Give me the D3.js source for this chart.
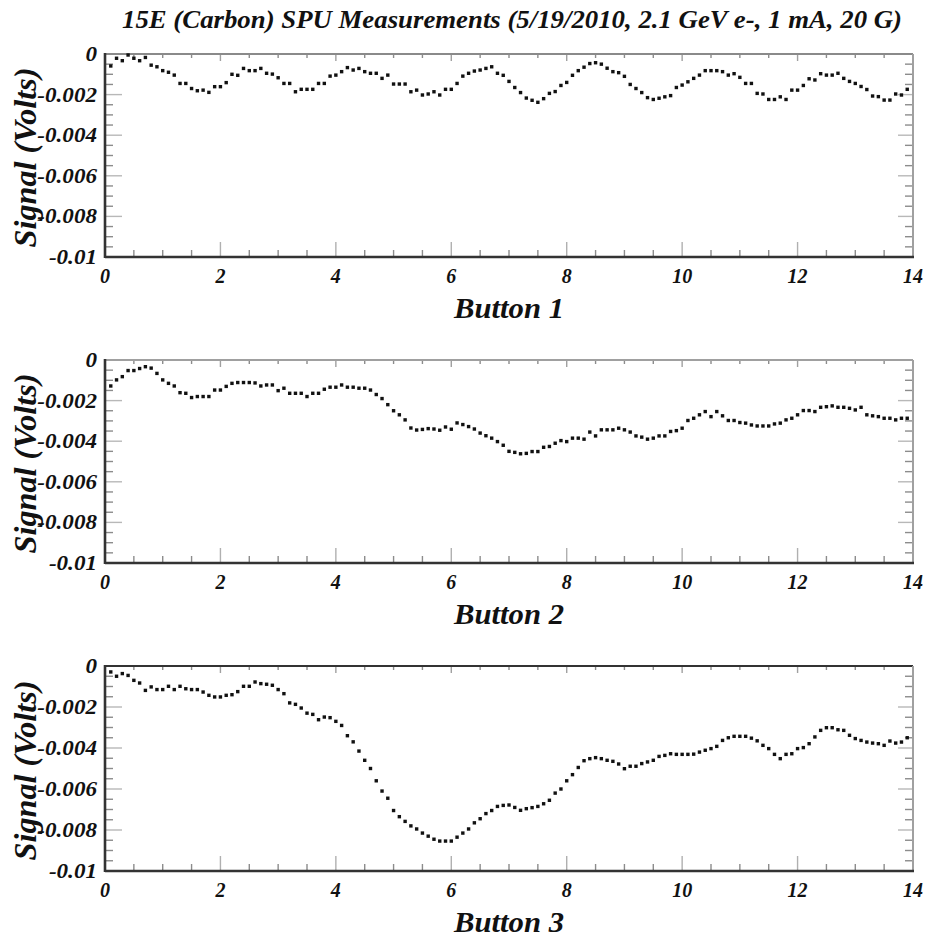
<!DOCTYPE html>
<html>
<head>
<meta charset="utf-8">
<script src="https://cdn.jsdelivr.net/npm/d3@7/dist/d3.min.js"></script>
<style>
  html, body { margin: 0; padding: 0; background: #fff; }
  svg { display: block; }
</style>
</head>
<body>
<script>
// ---- Data -------------------------------------------------------------
// Beam position along the scan, 0.1 .. 13.9 in steps of 0.1
const positions = d3.range(1, 140).map(i => i / 10);

// Button signals in millivolts, one value per position
const button1 = [
  -0.59,-0.21,-0.33,-0.05,-0.21,-0.33,-0.17,-0.55,-0.63,-0.82,
  -0.90,-1.04,-1.45,-1.45,-1.70,-1.81,-1.78,-1.89,-1.61,-1.61,
  -1.41,-1.00,-1.05,-0.71,-0.82,-0.82,-0.71,-0.95,-0.99,-1.17,
  -1.45,-1.45,-1.86,-1.74,-1.74,-1.74,-1.45,-1.45,-1.09,-1.04,
  -0.87,-0.67,-0.79,-0.71,-0.87,-0.95,-0.95,-1.20,-1.04,-1.48,
  -1.48,-1.48,-1.86,-1.78,-2.02,-1.97,-1.86,-2.02,-1.74,-1.74,
  -1.45,-1.09,-0.95,-0.84,-0.79,-0.71,-0.63,-0.95,-1.05,
  -1.35,-1.65,-1.90,-2.17,-2.28,-2.38,-2.20,-1.94,-1.85,-1.55,
  -1.40,-1.05,-0.82,-0.65,-0.47,-0.43,-0.50,-0.70,-0.87,-0.92,
  -1.10,-1.50,-1.70,-1.90,-2.15,-2.24,-2.18,-2.11,-2.05,-1.65,
  -1.53,-1.37,-1.20,-1.04,-0.82,-0.82,-0.82,-0.87,-1.04,-0.97,
  -1.15,-1.45,-1.45,-1.94,-1.97,-2.24,-2.24,-2.11,-2.24,-1.78,
  -1.78,-1.55,-1.22,-1.28,-0.97,-1.04,-1.04,-0.95,-1.20,-1.35,
  -1.45,-1.60,-1.75,-2.07,-2.10,-2.27,-2.27,-1.97,-2.02,-1.74
];

const button2 = [
  -1.28,-0.98,-0.82,-0.52,-0.52,-0.42,-0.33,-0.40,-0.66,-0.98,
  -1.15,-1.28,-1.61,-1.64,-1.85,-1.80,-1.80,-1.80,-1.48,-1.48,
  -1.30,-1.15,-1.11,-1.11,-1.11,-1.13,-1.28,-1.23,-1.23,-1.51,
  -1.39,-1.64,-1.64,-1.64,-1.80,-1.64,-1.64,-1.44,-1.34,-1.34,
  -1.23,-1.34,-1.34,-1.39,-1.39,-1.48,-1.70,-1.90,-2.20,-2.50,
  -2.70,-2.95,-3.35,-3.45,-3.42,-3.38,-3.40,-3.46,-3.30,-3.41,
  -3.10,-3.18,-3.28,-3.40,-3.60,-3.73,-3.85,-4.02,-4.20,
  -4.50,-4.55,-4.62,-4.60,-4.51,-4.51,-4.30,-4.26,-4.10,-3.97,
  -4.02,-3.85,-3.85,-3.90,-3.55,-3.74,-3.44,-3.44,-3.44,-3.36,
  -3.44,-3.55,-3.74,-3.80,-3.90,-3.85,-3.74,-3.74,-3.52,-3.48,
  -3.36,-2.98,-2.87,-2.70,-2.54,-2.79,-2.54,-2.75,-2.98,-2.98,
  -3.08,-3.11,-3.20,-3.25,-3.25,-3.25,-3.15,-3.11,-2.95,-2.87,
  -2.70,-2.49,-2.49,-2.54,-2.33,-2.30,-2.26,-2.33,-2.33,-2.38,
  -2.46,-2.33,-2.70,-2.75,-2.79,-2.87,-2.87,-2.95,-2.87,-2.87
];

const button3 = [
  -0.29,-0.50,-0.37,-0.46,-0.70,-0.83,-1.19,-1.02,-1.15,-1.15,
  -0.99,-1.15,-0.99,-1.11,-1.15,-1.15,-1.27,-1.43,-1.51,-1.51,
  -1.43,-1.40,-1.25,-0.99,-0.99,-0.78,-0.86,-0.89,-0.94,-1.15,
  -1.35,-1.80,-1.87,-2.05,-2.30,-2.36,-2.62,-2.49,-2.52,-2.70,
  -2.90,-3.40,-3.70,-4.15,-4.60,-5.00,-5.60,-6.10,-6.45,-7.05,
  -7.35,-7.58,-7.80,-7.95,-8.15,-8.30,-8.45,-8.54,-8.54,-8.54,
  -8.35,-8.15,-7.95,-7.65,-7.45,-7.20,-7.05,-6.85,-6.80,
  -6.78,-6.90,-7.04,-6.96,-6.91,-6.85,-6.72,-6.55,-6.20,-6.00,
  -5.60,-5.30,-4.95,-4.62,-4.52,-4.47,-4.52,-4.60,-4.65,-4.78,
  -5.01,-4.89,-4.89,-4.76,-4.68,-4.60,-4.41,-4.36,-4.28,-4.31,
  -4.31,-4.31,-4.30,-4.20,-4.11,-4.03,-3.92,-3.63,-3.50,-3.43,
  -3.43,-3.43,-3.52,-3.65,-3.87,-4.03,-4.31,-4.52,-4.31,-4.28,
  -4.03,-3.98,-3.79,-3.46,-3.14,-3.01,-3.01,-3.11,-3.14,-3.38,
  -3.54,-3.63,-3.71,-3.76,-3.79,-3.87,-3.66,-3.76,-3.71,-3.50
];

const seriesNames = ["Button 1", "Button 2", "Button 3"];
const xTickValues = [0, 2, 4, 6, 8, 10, 12, 14];
const yTickValues = [0, -0.002, -0.004, -0.006, -0.008, -0.01];
const yTickLabels = ["0", "-0.002", "-0.004", "-0.006", "-0.008", "-0.01"];
const chartTitle = "15E (Carbon) SPU Measurements (5/19/2010, 2.1 GeV e-, 1 mA, 20 G)";
const yTitle = "Signal (Volts)";

// ---- Layout -----------------------------------------------------------
const W = 925, H = 937;
const left = 105, right = 913;
const panelBoxes = [
  { top: 54,  bottom: 257, topStroke: "#8a8a8a" },
  { top: 360, bottom: 563, topStroke: "#a0a0a0" },
  { top: 666, bottom: 871, topStroke: "#333" }
];

// bold italic serif used for every label
function serifText(sel, size) {
  return sel
    .style("font-family", '"Liberation Serif"')
    .style("font-weight", "bold")
    .style("font-style", "italic")
    .style("font-size", size + "px")
    .attr("fill", "#111");
}

const svg = d3.select("body").append("svg")
  .attr("width", W).attr("height", H);

serifText(svg.append("text"), 25)
  .attr("x", 512).attr("y", 28)
  .attr("text-anchor", "middle")
  .attr("textLength", 780)
  .attr("lengthAdjust", "spacingAndGlyphs")
  .text(chartTitle);

const x = d3.scaleLinear().domain([0, 14]).range([left, right]);
const allSeries = [button1, button2, button3];

panelBoxes.forEach((box, p) => {
  const y = d3.scaleLinear().domain([-0.01, 0]).range([box.bottom, box.top]);
  const g = svg.append("g");

  // minor and major ticks, drawn inward on all four sides
  const xMinor = d3.range(0, 14.001, 0.5);
  const yMinor = d3.range(0, 21).map(i => -i * 0.0005);
  const isMajorX = v => Math.abs(v / 2 - Math.round(v / 2)) < 1e-6;
  const isMajorY = v => Math.abs(v / 0.002 - Math.round(v / 0.002)) < 1e-6;

  xMinor.forEach(v => {
    if (v === 0 || v === 14) return;
    const major = isMajorX(v);
    g.append("line")
      .attr("x1", x(v)).attr("x2", x(v))
      .attr("y1", box.bottom).attr("y2", box.bottom - (major ? 15 : 7))
      .attr("stroke", major ? "#b0b0b0" : "#8c8c8c").attr("stroke-width", 1.4);
    g.append("line")
      .attr("x1", x(v)).attr("x2", x(v))
      .attr("y1", box.top).attr("y2", box.top + (major ? 7 : 4))
      .attr("stroke", major ? "#a0a0a0" : "#8c8c8c").attr("stroke-width", 1.4);
  });
  yMinor.forEach(v => {
    if (v === 0 || Math.abs(v + 0.01) < 1e-9) return;
    const major = isMajorY(v);
    g.append("line")
      .attr("x1", left).attr("x2", left + (major ? 17 : 8))
      .attr("y1", y(v)).attr("y2", y(v))
      .attr("stroke", major ? "#b8b8b8" : "#8c8c8c").attr("stroke-width", 1.4);
    g.append("line")
      .attr("x1", right).attr("x2", right - (major ? 15 : 8))
      .attr("y1", y(v)).attr("y2", y(v))
      .attr("stroke", major ? "#b8b8b8" : "#8c8c8c").attr("stroke-width", 1.4);
  });

  // frame
  g.append("line").attr("x1", left).attr("x2", right).attr("y1", box.top).attr("y2", box.top)
    .attr("stroke", box.topStroke).attr("stroke-width", 2);
  g.append("line").attr("x1", right).attr("x2", right).attr("y1", box.top).attr("y2", box.bottom)
    .attr("stroke", "#a0a0a0").attr("stroke-width", 2);
  g.append("line").attr("x1", left).attr("x2", left).attr("y1", box.top - 1).attr("y2", box.bottom + 1)
    .attr("stroke", "#333").attr("stroke-width", 2.6);
  g.append("line").attr("x1", left).attr("x2", right + 1).attr("y1", box.bottom).attr("y2", box.bottom)
    .attr("stroke", "#333").attr("stroke-width", 2.6);

  // tick labels
  serifText(g.selectAll(".xl").data(xTickValues).enter().append("text"), 20)
    .attr("x", d => x(d)).attr("y", box.bottom + 26)
    .attr("text-anchor", "middle")
    .text(d => String(d));
  serifText(g.selectAll(".yl").data(yTickValues).enter().append("text"), 21)
    .attr("x", 97).attr("y", d => y(d) + 7)
    .attr("text-anchor", "end")
    .text((d, i) => yTickLabels[i])
    .each(function () {
      const w = this.getComputedTextLength();
      d3.select(this).attr("textLength", w * 1.1).attr("lengthAdjust", "spacingAndGlyphs");
    });

  // axis titles
  serifText(g.append("text"), 29)
    .attr("x", (left + right) / 2).attr("y", box.bottom + 61)
    .attr("text-anchor", "middle")
    .attr("textLength", 110).attr("lengthAdjust", "spacingAndGlyphs")
    .text(seriesNames[p]);
  serifText(g.append("text"), 31)
    .attr("transform", `translate(36,${(box.top + box.bottom) / 2 + 2}) rotate(-90)`)
    .attr("text-anchor", "middle")
    .attr("textLength", 180).attr("lengthAdjust", "spacingAndGlyphs")
    .text(yTitle);

  // data markers
  const pts = positions.map((pos, i) => ({ pos, v: allSeries[p][i] / 1000 }));
  g.selectAll(".pt").data(pts).enter().append("rect")
    .attr("x", d => x(d.pos) - 1.7).attr("y", d => y(d.v) - 1.7)
    .attr("width", 3.4).attr("height", 3.4)
    .attr("fill", "#111");
});
</script>
</body>
</html>
